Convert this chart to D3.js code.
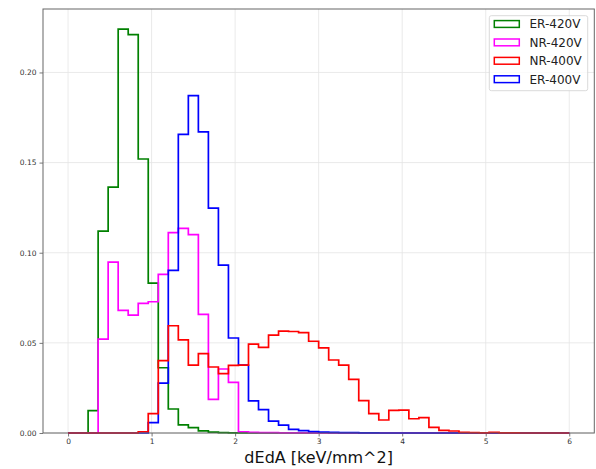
<!DOCTYPE html>
<html>
<head>
<meta charset="utf-8">
<script src="https://cdn.jsdelivr.net/npm/d3@7"></script>
<style>
body{margin:0;background:#fff;}
text{font-family:"DejaVu Sans",sans-serif;}
</style>
</head>
<body>
<div id="viz"></div>
<script>
// bin edges: 50 bins of 0.12 over [0,6]
var binStart=0,binWidth=0.12,nBins=50;
var seriesNames=['ER-420V','NR-420V','NR-400V','ER-400V'];
var seriesColors=['green','magenta','red','blue'];

var er420=[0,0,0.0124,0.112,0.1364,0.224,0.221,0.152,0.0831,0.0362,
    0.0133,0.0045,0.003,0.0012,0.0005,0.0002,0.0001,0.0001,0,0,
    0,0,0,0,0,0,0,0,0,0,0,0,0,0,0,0,0,0,0,0,0,0,0,0,0,0,0,0,0,0];
var nr420=[0,0,0,0.0521,0.0948,0.068,0.0654,0.0719,0.0728,0.088,
    0.1112,0.1135,0.110,0.0658,0.0187,0.0355,0.0281,0.0007,0.0003,0.0002,
    0.0002,0.0001,0.0001,0.0001,0.0001,0.0001,0.0001,0.0001,0.0001,0.0001,
    0.0001,0.0001,0.0001,0.0001,0.0001,0.0001,0.0001,0.0001,0,0,
    0,0,0,0,0,0,0,0,0,0];
var nr400=[0,0,0,0,0,0,0,0.0007,0.0107,0.0401,
    0.0595,0.0517,0.0377,0.044,0.0366,0.0329,0.0375,0.0377,0.0493,0.0475,
    0.0543,0.0565,0.0563,0.0557,0.0509,0.0472,0.0405,0.0377,0.0298,0.018,
    0.0107,0.0072,0.0126,0.0127,0.0079,0.0085,0.0031,0.0015,0.0011,0.0004,
    0.0002,0.0001,0.0003,0.0001,0.0001,0,0,0,0,0];
var er400=[0,0,0,0,0,0,0,0,0.0057,0.0277,
    0.0902,0.1656,0.1872,0.167,0.1247,0.0931,0.0527,0.0377,0.0178,0.013,
    0.0066,0.0044,0.002,0.0013,0.0008,0.0005,0.0003,0.0002,0.0002,0.0001,
    0.0001,0,0,0,0,0,0,0,0,0,0,0,0,0,0,0,0,0,0,0];
var seriesValues=[er420,nr420,nr400,er400];
// draw order (red ends up on top)
var drawOrder=[0,1,3,2];

var xTicks=[0,1,2,3,4,5,6];
var yTicks=[0,0.05,0.10,0.15,0.20];
var xLabel='dEdA [keV/mm^2]';

//----------------------------------------------------------------
var width=596,
    height=469,
    plotLeft=43,
    plotRight=594.3,
    plotTop=9,
    plotBottom=433;

var xScale=d3.scaleLinear()
    .domain([-0.3,6.3])
    .range([plotLeft,plotRight]);

var yScale=d3.scaleLinear()
    .domain([0,0.2352])
    .range([plotBottom,plotTop]);

var svg=d3.select('#viz').append('svg')
    .attr('width',width)
    .attr('height',height);

// grid
svg.append('g').selectAll('line').data(xTicks)
    .enter().append('line')
    .attr('x1',function(d){return xScale(d);})
    .attr('x2',function(d){return xScale(d);})
    .attr('y1',plotTop)
    .attr('y2',plotBottom)
    .style('stroke','#e5e5e5')
    .style('stroke-width',0.8);
svg.append('g').selectAll('line').data(yTicks)
    .enter().append('line')
    .attr('x1',plotLeft)
    .attr('x2',plotRight)
    .attr('y1',function(d){return yScale(d);})
    .attr('y2',function(d){return yScale(d);})
    .style('stroke','#e5e5e5')
    .style('stroke-width',0.8);

// axes
var xAxis=svg.append('g')
    .attr('transform','translate(0,'+plotBottom+')')
    .call(d3.axisBottom(xScale).tickValues(xTicks).tickSize(3.5).tickPadding(2).tickFormat(d3.format('d')));
var yAxis=svg.append('g')
    .attr('transform','translate('+plotLeft+',0)')
    .call(d3.axisLeft(yScale).tickValues(yTicks).tickSize(3.5).tickPadding(3).tickFormat(d3.format('.2f')));
[xAxis,yAxis].forEach(function(a){
    a.select('.domain').remove();
    a.selectAll('line').style('stroke','#555').style('stroke-width',0.8);
    a.selectAll('text').style('font-size','7.5px').style('fill','#333')
        .style('font-family','DejaVu Sans, sans-serif');
});

// histograms as steps
var stepLine=d3.line()
    .x(function(d){return xScale(d[0]);})
    .y(function(d){return yScale(d[1]);});

function stepPoints(vals){
    var pts=[[binStart,0]];
    for(var i=0;i<vals.length;i++){
        var x0=binStart+i*binWidth,x1=x0+binWidth;
        pts.push([x0,vals[i]]);
        pts.push([x1,vals[i]]);
    }
    pts.push([binStart+nBins*binWidth,0]);
    return pts;
}

var plot=svg.append('g');
drawOrder.forEach(function(k){
    plot.append('path')
        .attr('d',stepLine(stepPoints(seriesValues[k])))
        .style('fill','none')
        .style('stroke',seriesColors[k])
        .style('stroke-width',1.7)
        .style('stroke-linejoin','miter');
});

// frame
svg.append('rect')
    .attr('x',plotLeft)
    .attr('y',plotTop)
    .attr('width',plotRight-plotLeft)
    .attr('height',plotBottom-plotTop)
    .style('fill','none')
    .style('stroke','#666')
    .style('stroke-width',1);

// x label
svg.append('text')
    .attr('x',(plotLeft+plotRight)/2)
    .attr('y',463)
    .attr('text-anchor','middle')
    .style('font-size','16px')
    .style('fill','#111')
    .text(xLabel);

//LEGEND----------------------------------------------------------------
var legend=svg.append('g');
legend.append('rect')
    .attr('x',489.3)
    .attr('y',15.7)
    .attr('width',98.4)
    .attr('height',75)
    .attr('rx',2)
    .style('fill','white')
    .style('fill-opacity',0.8)
    .style('stroke','#d0d0d0')
    .style('stroke-width',0.8);
var rows=legend.selectAll('g.row').data(seriesNames)
    .enter().append('g')
    .attr('class','row')
    .attr('transform',function(d,i){
        return 'translate(0,'+(24+i*18.4)+')';
    });
rows.append('rect')
    .attr('x',494.3)
    .attr('y',-3.4)
    .attr('width',25)
    .attr('height',6.8)
    .style('fill','none')
    .style('stroke',function(d,i){return seriesColors[i];})
    .style('stroke-width',1.5);
rows.append('text')
    .attr('x',529.5)
    .attr('y',4.4)
    .style('font-size','12px')
    .style('fill','#222')
    .text(function(d){return d;});
</script>
</body>
</html>
